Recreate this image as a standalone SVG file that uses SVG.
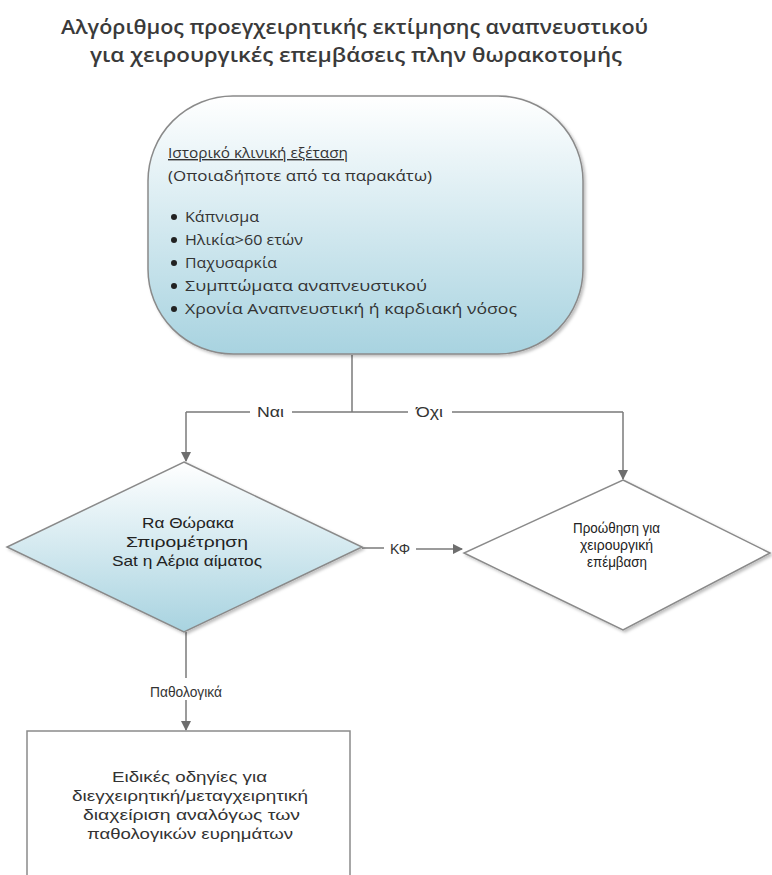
<svg xmlns="http://www.w3.org/2000/svg" width="772" height="875" viewBox="0 0 772 875">
<defs>
<linearGradient id="blueGrad" x1="0" y1="0" x2="0" y2="1">
<stop offset="0" stop-color="#ffffff"/>
<stop offset="1" stop-color="#a8d3e0"/>
</linearGradient>
<marker id="arr" viewBox="0 0 10 10" refX="9" refY="5" markerWidth="7" markerHeight="7" orient="auto">
<path d="M0,0 L10,5 L0,10 z" fill="#6e6e6e"/>
</marker>
<filter id="sh" x="-5%" y="-5%" width="115%" height="115%">
<feDropShadow dx="2" dy="2" stdDeviation="1.5" flood-color="#000" flood-opacity="0.25"/>
</filter>
</defs>
<style>
.title{font-family:"Open Sans","Liberation Sans",sans-serif;font-size:20px;font-weight:600;fill:#3a3a3a}
.t{font-family:"Open Sans","Liberation Sans",sans-serif;font-size:14px;fill:#333}
.n{font-family:"Liberation Sans","DejaVu Sans",sans-serif;font-size:15px;fill:#222}
.lbl{font-family:"Liberation Sans","DejaVu Sans",sans-serif;font-size:14px;fill:#333}
.line{fill:none;stroke:#7a7a7a;stroke-width:1.5}
.shape{stroke:#8a8a8a;stroke-width:1.5}
</style>
<rect width="772" height="875" fill="#fff"/>
<text class="title" x="61" y="34" textLength="587" lengthAdjust="spacingAndGlyphs">Αλγόριθμος προεγχειρητικής εκτίμησης αναπνευστικού</text>
<text class="title" x="90" y="62" textLength="532" lengthAdjust="spacingAndGlyphs">για χειρουργικές επεμβάσεις πλην θωρακοτομής</text>

<g id="connectors">
<path class="line" d="M352,355 V412"/>
<path class="line" d="M186,412 H250 M292,412 H352 H408 M452,412 H623"/>
<path class="line" d="M186,412 V461" marker-end="url(#arr)"/>
<path class="line" d="M623,412 V479" marker-end="url(#arr)"/>
<path class="line" d="M362,548 H384"/>
<path class="line" d="M416,549 H462" marker-end="url(#arr)"/>
<path class="line" d="M186,632 V678"/>
<path class="line" d="M186,700 V730" marker-end="url(#arr)"/>
<text class="lbl" x="257" y="417" textLength="27" lengthAdjust="spacingAndGlyphs">Ναι</text>
<text class="lbl" x="416" y="417" textLength="27" lengthAdjust="spacingAndGlyphs">Όχι</text>
<text class="lbl" x="390" y="554" textLength="20" lengthAdjust="spacingAndGlyphs">ΚΦ</text>
<text class="lbl" x="150" y="697" textLength="72" lengthAdjust="spacingAndGlyphs">Παθολογικά</text>
</g>

<g id="node-history">
<rect class="shape" x="148" y="96" width="435" height="258" rx="85" ry="85" fill="url(#blueGrad)" filter="url(#sh)"/>
<text class="t" x="168" y="158" text-decoration="underline" textLength="180" lengthAdjust="spacingAndGlyphs">Ιστορικό κλινική εξέταση</text>
<text class="t" x="168" y="181" textLength="264" lengthAdjust="spacingAndGlyphs">(Οποιαδήποτε από τα παρακάτω)</text>
<circle cx="174" cy="217" r="3" fill="#222"/>
<text class="t" x="185" y="222" textLength="74" lengthAdjust="spacingAndGlyphs">Κάπνισμα</text>
<circle cx="174" cy="240" r="3" fill="#222"/>
<text class="t" x="185" y="245" textLength="118" lengthAdjust="spacingAndGlyphs">Ηλικία&gt;60 ετών</text>
<circle cx="174" cy="263" r="3" fill="#222"/>
<text class="t" x="185" y="268" textLength="92" lengthAdjust="spacingAndGlyphs">Παχυσαρκία</text>
<circle cx="174" cy="286" r="3" fill="#222"/>
<text class="t" x="185" y="291" textLength="242" lengthAdjust="spacingAndGlyphs">Συμπτώματα αναπνευστικού</text>
<circle cx="174" cy="309" r="3" fill="#222"/>
<text class="t" x="185" y="314" textLength="332" lengthAdjust="spacingAndGlyphs">Χρονία Αναπνευστική ή καρδιακή νόσος</text>
</g>

<g id="node-tests">
<polygon class="shape" points="184,462 362,547 184,632 7,547" fill="url(#blueGrad)" filter="url(#sh)"/>
<text class="n" x="142" y="528" textLength="92" lengthAdjust="spacingAndGlyphs">Rα Θώρακα</text>
<text class="n" x="126" y="547" textLength="122" lengthAdjust="spacingAndGlyphs">Σπιρομέτρηση</text>
<text class="n" x="112" y="566" textLength="150" lengthAdjust="spacingAndGlyphs">Sat η Αέρια αίματος</text>
</g>

<g id="node-surgery">
<polygon class="shape" points="623,480 770,553 623,630 464,553" fill="#fff" filter="url(#sh)"/>
<text class="n" x="573" y="533" textLength="87" lengthAdjust="spacingAndGlyphs">Προώθηση για</text>
<text class="n" x="580" y="550" textLength="73" lengthAdjust="spacingAndGlyphs">χειρουργική</text>
<text class="n" x="587" y="567" textLength="60" lengthAdjust="spacingAndGlyphs">επέμβαση</text>
</g>

<g id="node-guidance">
<rect class="shape" x="27" y="731" width="323" height="160" fill="#fff"/>
<text class="lbl" x="112" y="782" textLength="155" lengthAdjust="spacingAndGlyphs">Ειδικές οδηγίες για</text>
<text class="lbl" x="72" y="801" textLength="236" lengthAdjust="spacingAndGlyphs">διεγχειρητική/μεταγχειρητική</text>
<text class="lbl" x="83" y="820" textLength="217" lengthAdjust="spacingAndGlyphs">διαχείριση αναλόγως των</text>
<text class="lbl" x="87" y="839" textLength="206" lengthAdjust="spacingAndGlyphs">παθολογικών ευρημάτων</text>
</g>
</svg>
